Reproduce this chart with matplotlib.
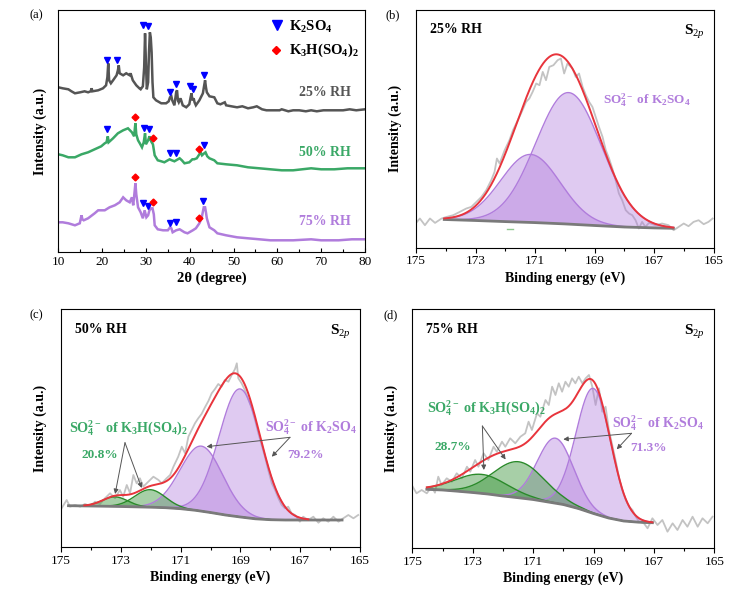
import numpy as np
import matplotlib
matplotlib.use("Agg")
import matplotlib.pyplot as plt

plt.rcParams['font.family'] = ['Liberation Serif', 'DejaVu Serif']
plt.rcParams['mathtext.fontset'] = 'custom'
plt.rcParams['mathtext.rm'] = 'Liberation Serif'
plt.rcParams['mathtext.bf'] = 'Liberation Serif:bold'
plt.rcParams['mathtext.it'] = 'Liberation Serif:italic'

# ---------------- XRD data (panel a) ----------------
xrd_tt_25 = [10.0, 11.0, 12.3, 13.0, 13.8, 15.0, 16.0, 16.8, 17.4, 17.6, 17.8, 19.1, 20.2, 20.9, 21.2, 21.4, 21.6,
             22.0, 22.5, 23.3, 23.6, 23.8, 24.0, 24.8, 25.5, 26.3, 26.5, 27.0, 27.8, 28.5, 28.8, 29.3, 29.6, 29.8,
             30.0, 30.2, 30.5, 30.7, 30.9, 31.1, 31.3, 31.5, 31.7, 32.3, 33.5, 34.6, 35.2, 35.5, 35.8, 36.0, 36.5,
             36.9, 37.1, 37.3, 37.5, 37.9, 38.4, 39.2, 39.9, 40.2, 40.4, 40.6, 40.9, 41.1, 41.4, 42.2, 43.0, 43.3,
             43.5, 43.7, 43.9, 44.5, 45.6, 46.3, 47.0, 48.0, 48.3, 49.5, 50.8, 52.0, 53.3, 54.5, 55.3, 56.5, 57.5,
             59.0, 60.5, 61.0, 62.5, 63.6, 65.0, 66.5, 67.7, 69.0, 70.5, 72.0, 73.5, 75.0, 76.5, 78.0, 80.0]
xrd_int_25 = [165, 164, 163, 161, 159, 160, 161, 160, 161, 164, 161, 162, 164, 167, 175, 189, 172,
              169, 172, 177, 182, 187, 179, 177, 179, 177, 179, 172, 167, 164, 163, 166, 185, 219,
              190, 163, 170, 200, 220, 215, 200, 170, 155, 152, 149, 149, 151, 155, 156, 152, 147,
              160, 162, 152, 150, 154, 147, 145, 148, 155, 159, 152, 154, 150, 147, 152, 159, 167,
              172, 165, 160, 156, 155, 149, 148, 150, 147, 146, 145, 146, 144, 145, 146, 143, 142,
              142, 142, 143, 141, 142, 142, 141, 142, 141, 142, 142, 142, 142, 143, 142, 143]

xrd_tt_50 = [10.0, 11.0, 12.3, 13.8, 15.3, 16.8, 18.3, 19.8, 20.6, 21.0, 21.3, 21.5, 22.5, 23.6, 24.8, 25.9, 26.8,
             27.3, 27.5, 27.6, 27.8, 28.2, 28.6, 29.1, 29.5, 29.8, 30.0, 30.5, 30.8, 31.0, 31.3, 31.6, 32.0, 32.7,
             33.5, 34.2, 35.4, 35.9, 36.5, 37.7, 38.2, 38.8, 39.9, 40.6, 41.0, 41.6, 42.2, 42.5, 42.8, 43.3, 43.6,
             44.0, 44.5, 45.6, 46.3, 48.3, 50.8, 53.3, 55.9, 58.4, 61.0, 63.6, 67.7, 70.0, 73.0, 76.0, 80.0]
xrd_int_50 = [98, 97, 95, 95, 98, 100, 103, 106, 109, 110, 116, 110, 114, 119, 122, 124, 120,
              116, 125, 129, 118, 112, 109, 105, 110, 119, 108, 112, 116, 113, 110, 108, 97, 92,
              91, 90, 93, 92, 91, 94, 92, 89, 90, 93, 93, 94, 98, 100, 97, 99, 100,
              96, 94, 92, 89, 88, 87, 85, 84, 83, 82, 82, 84, 83, 83, 84, 84]

xrd_tt_75 = [10.0, 11.0, 12.3, 13.8, 14.9, 15.3, 15.5, 15.8, 16.8, 18.3, 19.1, 20.6, 21.7, 22.9, 24.0, 24.8, 25.5,
             26.3, 26.8, 27.1, 27.4, 27.6, 27.8, 28.2, 28.8, 29.3, 29.7, 30.1, 30.5, 30.8, 31.2, 31.5, 31.8, 32.0,
             32.7, 33.9, 35.0, 35.5, 35.8, 36.1, 36.9, 37.7, 38.8, 39.5, 40.7, 41.4, 42.2, 42.7, 43.2, 43.5, 43.7,
             43.9, 44.5, 45.6, 46.3, 48.3, 50.8, 53.3, 55.9, 58.4, 61.0, 63.6, 67.7, 70.0, 74.0, 77.0, 80.0]
xrd_int_75 = [30, 30, 29, 27, 29, 37, 33, 32, 34, 39, 42, 42, 45, 47, 50, 55, 52,
              50, 55, 47, 60, 69, 58, 45, 40, 34, 42, 35, 37, 42, 44, 44, 38, 27,
              23, 22, 22, 25, 24, 20, 22, 23, 20, 19, 22, 24, 29, 34, 45, 45, 40,
              34, 25, 22, 19, 17, 15, 14, 13, 12, 12, 12, 13, 12, 12, 13, 13]

# phase markers (2theta, height)
k2so4_mark_25 = ([21.1, 23.4, 29.3, 30.5, 35.5, 36.8, 40.0, 40.7, 43.2], [192, 192, 227, 226, 160, 168, 166, 163, 177])
k2so4_mark_50 = ([21.1, 29.5, 30.8, 35.5, 36.8, 43.2], [123, 124, 123, 99, 99, 107])
k3h_mark_50 = ([27.4, 31.5, 42.2], [135, 114, 103])
k2so4_mark_75 = ([29.3, 30.5, 35.5, 36.8, 43.0], [49, 46, 29, 30, 51])
k3h_mark_75 = ([27.4, 31.5, 42.2], [75, 50, 34])

xrd_labels = ['25% RH', '50% RH', '75% RH']
xrd_label_y = [160, 99.6, 30.6]

# ---------------- XPS data (panels b, c, d) ----------------
# panel b (25% RH)
raw_be_b = [175.00, 174.87, 174.70, 174.53, 174.36, 174.14, 173.97, 173.75, 173.53, 173.31, 173.14, 172.97, 172.80,
            172.64, 172.47, 172.36, 172.28, 172.19, 172.02, 171.86, 171.74, 171.63, 171.47, 171.30, 171.19, 171.08,
            170.96, 170.85, 170.74, 170.63, 170.52, 170.38, 170.24, 170.13, 170.02, 169.91, 169.74, 169.63, 169.52,
            169.40, 169.29, 169.18, 169.07, 168.96, 168.85, 168.73, 168.62, 168.51, 168.40, 168.29, 168.18, 168.07,
            167.95, 167.84, 167.73, 167.62, 167.51, 167.40, 167.29, 167.17, 166.95, 166.73, 166.51, 166.34, 166.17,
            166.00, 165.84, 165.67, 165.50, 165.33, 165.17, 165.03]
raw_int_b = [24.6, 29.0, 22.3, 29.0, 24.6, 29.0, 30.6, 32.3, 35.6, 39.0, 40.6, 45.6, 50.6,
             57.3, 67.3, 75.6, 89.0, 84.0, 97.3, 107.3, 117.3, 124.0, 134.0, 145.6, 149.0, 155.6,
             164.0, 162.3, 175.6, 167.3, 180.6, 182.3, 187.3, 189.0, 174.0, 184.0, 179.0, 170.6, 174.0,
             160.6, 152.3, 145.6, 140.6, 130.6, 120.6, 110.6, 97.3, 89.0, 79.0, 67.3, 54.0, 47.3,
             37.3, 34.0, 32.3, 27.3, 19.0, 25.6, 20.6, 24.6, 22.3, 24.0, 22.3, 17.3, 20.6,
             24.0, 21.3, 25.6, 27.3, 23.3, 25.6, 29.0]
bg_be_b = [174.05, 173.0, 172.0, 171.0, 170.0, 169.0, 168.0, 167.0, 166.35]
bg_int_b = [28.0, 27.0, 25.9, 24.9, 23.6, 22.0, 20.5, 19.6, 19.2]
fit_range_b = [174.05, 166.35]
peak_center_b = [169.87, 171.15]
peak_height_b = [131.5, 68.0]
peak_fwhm_b = [2.6, 2.35]
peak_phase_b = ['K2SO4', 'K2SO4']

# panel c (50% RH)
raw_be_c = [175.00, 174.81, 174.70, 174.53, 174.36, 174.20, 174.03, 173.86, 173.70, 173.53, 173.36, 173.19, 173.03,
            172.92, 172.80, 172.69, 172.58, 172.47, 172.36, 172.25, 172.08, 171.91, 171.74, 171.63, 171.47, 171.35,
            171.24, 171.08, 170.96, 170.85, 170.74, 170.63, 170.52, 170.41, 170.30, 170.18, 170.07, 169.96, 169.85,
            169.74, 169.63, 169.52, 169.40, 169.29, 169.18, 169.12, 169.07, 168.96, 168.85, 168.73, 168.62, 168.51,
            168.40, 168.29, 168.18, 168.07, 167.95, 167.84, 167.73, 167.62, 167.51, 167.40, 167.29, 167.17, 167.01,
            166.90, 166.73, 166.56, 166.39, 166.23, 166.06, 165.89, 165.72, 165.56, 165.39, 165.22, 165.06]
raw_int_c = [37.7, 47.0, 40.3, 42.0, 40.3, 43.0, 41.0, 45.3, 43.0, 48.7, 53.7, 48.7, 57.0,
             50.3, 62.0, 53.7, 72.0, 63.7, 68.7, 60.3, 65.3, 70.3, 67.0, 63.7, 68.7, 72.0,
             80.3, 90.3, 100.3, 93.7, 110.3, 117.0, 123.7, 128.7, 133.0, 140.0, 146.0, 153.7, 158.0,
             163.0, 160.3, 167.0, 165.3, 172.0, 178.0, 183.7, 168.7, 163.7, 157.0, 147.0, 138.7, 127.0,
             113.7, 102.0, 90.3, 77.0, 63.7, 57.0, 48.7, 42.0, 38.7, 40.3, 33.7, 32.0, 25.3,
             30.3, 27.0, 30.3, 24.3, 28.7, 25.3, 30.3, 25.3, 28.7, 32.0, 28.7, 32.0]
bg_be_c = [174.75, 174.0, 173.0, 172.0, 171.5, 171.0, 170.5, 170.0, 169.5, 169.0, 168.5, 168.0, 167.5, 167.0, 166.0, 165.6]
bg_int_c = [41.3, 41.0, 40.5, 39.8, 39.3, 38.3, 36.7, 34.5, 32.0, 30.0, 28.2, 27.3, 27.0, 27.0, 27.0, 27.0]
fit_range_c = [174.22, 166.73]
peak_center_c = [169.01, 170.30, 172.02, 173.19]
peak_height_c = [128.0, 65.0, 17.5, 9.5]
peak_fwhm_c = [1.66, 1.67, 1.2, 1.0]
peak_phase_c = ['K2SO4', 'K2SO4', 'K3H', 'K3H']

# panel d (75% RH)
raw_be_d = [175.00, 174.86, 174.69, 174.52, 174.36, 174.25, 174.14, 174.03, 173.86, 173.69, 173.53, 173.36, 173.19,
            173.08, 172.92, 172.81, 172.64, 172.48, 172.31, 172.20, 172.03, 171.92, 171.76, 171.59, 171.42, 171.26,
            171.15, 171.04, 170.87, 170.76, 170.59, 170.48, 170.37, 170.26, 170.15, 170.04, 169.93, 169.82, 169.71,
            169.60, 169.49, 169.37, 169.26, 169.15, 169.04, 168.93, 168.82, 168.71, 168.60, 168.49, 168.38, 168.27,
            168.16, 168.05, 167.93, 167.82, 167.71, 167.60, 167.49, 167.33, 167.21, 167.05, 166.88, 166.72, 166.55,
            166.38, 166.22, 166.05, 165.89, 165.72, 165.55, 165.39, 165.22, 165.06]
raw_int_d = [62.0, 54.7, 58.0, 54.7, 61.3, 55.3, 71.3, 63.0, 69.7, 66.3, 74.7, 69.7, 81.3,
             76.3, 88.0, 81.3, 94.7, 88.0, 101.3, 96.3, 106.3, 101.3, 109.7, 104.7, 111.3, 114.7,
             126.3, 118.0, 134.7, 131.3, 148.0, 143.0, 161.3, 153.0, 164.7, 156.3, 166.3, 161.3, 169.7,
             164.7, 171.3, 164.7, 169.7, 173.0, 161.3, 143.0, 159.7, 136.3, 141.3, 118.0, 103.0, 88.0,
             71.3, 58.0, 48.0, 41.3, 38.0, 31.3, 26.3, 24.7, 19.7, 29.7, 23.0, 28.0, 16.3,
             24.7, 18.0, 28.0, 21.3, 31.3, 21.3, 29.7, 24.7, 31.3]
bg_be_d = [174.52, 174.0, 173.5, 173.0, 172.5, 172.0, 171.5, 171.0, 170.5, 170.0, 169.5, 169.0, 168.5, 168.0, 167.5, 167.05]
bg_int_d = [58.7, 58.0, 56.8, 55.5, 54.0, 52.0, 50.3, 48.5, 46.0, 43.5, 39.5, 34.5, 30.0, 27.0, 25.8, 25.3]
fit_range_d = [174.52, 167.05]
peak_center_d = [169.0, 170.26, 171.48, 172.70]
peak_height_d = [125.0, 65.0, 36.0, 19.0]
peak_fwhm_d = [1.35, 1.4, 2.0, 2.0]
peak_phase_d = ['K2SO4', 'K2SO4', 'K3H', 'K3H']

pct_c = ['20.8%', '79.2%']
pct_d = ['28.7%', '71.3%']

# ---------------- style ----------------
C25 = '#555555'
C50 = '#3aa866'
C75 = '#b07cdc'
PURPLE = '#b07cdc'
GREEN_FILL = '#3c963c'
GREEN_EDGE = '#2a8a2a'
GREEN_TXT = '#3aa866'
RAW = '#c3c3c3'
ENV = '#e8343c'
BG = '#7a7a7a'
ARW = '#555555'

W, H = 756, 598
fig = plt.figure(figsize=(W / 100, H / 100), dpi=100)


def frac(l, t, r, b):
    return [l / W, 1 - b / H, (r - l) / W, (b - t) / H]


# ---------------- panel (a) ----------------
axa = fig.add_axes(frac(58.3, 10, 365, 252.3))
for tt, it, c in [(xrd_tt_25, xrd_int_25, C25), (xrd_tt_50, xrd_int_50, C50), (xrd_tt_75, xrd_int_75, C75)]:
    axa.plot(tt, it, color=c, lw=1.8, solid_joinstyle='miter')
for mk in [k2so4_mark_25, k2so4_mark_50, k2so4_mark_75]:
    axa.plot(mk[0], mk[1], ls='none', marker='v', ms=4.5, color='#0000ff', mec='#0000ff')
for mk in [k3h_mark_50, k3h_mark_75]:
    axa.plot(mk[0], mk[1], ls='none', marker='D', ms=3.5, color='#ff0000', mec='#ff0000')
for lab, y, c in zip(xrd_labels, xrd_label_y, [C25, C50, C75]):
    axa.text(76.8, y, lab, color=c, fontsize=10, fontweight='bold', ha='right', va='center')
axa.plot([59.9], [227], ls='none', marker='v', ms=7, color='#0000ff')
axa.plot([59.6], [202], ls='none', marker='D', ms=4.5, color='#ff0000')
axa.text(62.7, 225.5, r'$\mathbf{K_2SO_4}$', fontsize=10.5, ha='left', va='center')
axa.text(62.7, 202, r'$\mathbf{K_3H(SO_4)_2}$', fontsize=10.5, ha='left', va='center')
axa.set_xlim(10, 80)
axa.set_ylim(0, 242.3)
axa.set_xticks(range(10, 81, 10))
axa.set_xticks(range(15, 80, 10), minor=True)
axa.set_yticks([])
axa.tick_params(axis='x', which='major', direction='in', length=3, width=0.8, labelsize=9.5, pad=3)
axa.tick_params(axis='x', which='minor', direction='in', length=2, width=0.8)
axa.set_xlabel('2θ (degree)', fontsize=10.5, fontweight='bold', labelpad=2)
axa.set_ylabel('Intensity (a.u.)', fontsize=10, fontweight='bold', labelpad=8)


def gauss(x, c, h, w):
    return h * np.exp(-4 * np.log(2) * (x - c) ** 2 / w ** 2)


def xps_panel(rect, raw_be, raw_int, bg_be, bg_int, fit_range, centers, heights, fwhms, phases, rh, ylab_pad):
    ax = fig.add_axes(rect)
    ax.plot(raw_be, raw_int, color=RAW, lw=1.3, zorder=1)
    x = np.linspace(fit_range[0], fit_range[1], 600)
    bgx = np.interp(x[::-1], bg_be[::-1], bg_int[::-1])[::-1]
    total = bgx.copy()
    for c, h, w, p in zip(centers, heights, fwhms, phases):
        g = gauss(x, c, h, w)
        total += g
        if p == 'K2SO4':
            ax.fill_between(x, bgx, bgx + g, color=PURPLE, alpha=0.4, lw=0, zorder=2)
            ax.plot(x, bgx + g, color=PURPLE, lw=1.0, zorder=3)
        else:
            ax.fill_between(x, bgx, bgx + g, color=GREEN_FILL, alpha=0.45, lw=0, zorder=2)
            ax.plot(x, bgx + g, color=GREEN_EDGE, lw=1.0, zorder=3)
    ax.plot(bg_be, bg_int, color=BG, lw=2.0, zorder=4)
    ax.plot(x, total, color=ENV, lw=1.4, zorder=5)
    ax.set_xlim(175, 165)
    ax.set_xticks([175, 173, 171, 169, 167, 165])
    ax.set_xticks([174, 172, 170, 168, 166], minor=True)
    ax.set_yticks([])
    ax.tick_params(axis='x', which='major', direction='out', length=3.5, width=0.8, labelsize=9.5, pad=2)
    ax.tick_params(axis='x', which='minor', direction='out', length=2, width=0.8)
    ax.set_xlabel('Binding energy (eV)', fontsize=10, fontweight='bold', labelpad=3)
    ax.set_ylabel('Intensity (a.u.)', fontsize=10, fontweight='bold', labelpad=ylab_pad)
    ax.text(0.047, 0.915, rh, transform=ax.transAxes, fontsize=10, fontweight='bold', ha='left', va='center')
    ax.text(0.90, 0.905, r'$\mathbf{S}_{\mathit{2p}}$', transform=ax.transAxes, fontsize=11, ha='left', va='center')
    return ax


axb = xps_panel(frac(416, 9.5, 713.5, 247.5), raw_be_b, raw_int_b, bg_be_b, bg_int_b, fit_range_b,
                peak_center_b, peak_height_b, peak_fwhm_b, peak_phase_b, '25% RH', 10)
axb.set_ylim(0, 238)
axb.plot([171.94, 171.74], [18.5, 18.5], color='#8fc98f', lw=1)
axb.text(168.71, 147.5, r'$\mathbf{SO_4^{2-}\ of\ K_2SO_4}$', color=PURPLE, fontsize=9.5, ha='left', va='center')

axc = xps_panel(frac(61, 309.3, 360, 547), raw_be_c, raw_int_c, bg_be_c, bg_int_c, fit_range_c,
                peak_center_c, peak_height_c, peak_fwhm_c, peak_phase_c, '50% RH', 10)
axc.set_ylim(0, 237.7)
axc.text(174.73, 119, r'$\mathbf{SO_4^{2-}\ of\ K_3H(SO_4)_2}$', color=GREEN_TXT, fontsize=10.2, ha='left', va='center')
axc.text(174.30, 92, pct_c[0], color=GREEN_TXT, fontsize=9.5, fontweight='bold', ha='left', va='center')
axc.text(168.18, 120.3, r'$\mathbf{SO_4^{2-}\ of\ K_2SO_4}$', color=PURPLE, fontsize=10, ha='left', va='center')
axc.text(167.44, 92, pct_c[1], color=PURPLE, fontsize=9.5, fontweight='bold', ha='left', va='center')
ap = dict(arrowstyle='-|>', color=ARW, lw=0.7, mutation_scale=7, shrinkA=0, shrinkB=0)
for tgt in [(173.19, 53), (172.30, 59)]:
    axc.annotate('', xy=tgt, xytext=(172.86, 104.3), arrowprops=ap, zorder=6)
for tgt in [(170.13, 100.3), (167.95, 90.3)]:
    axc.annotate('', xy=tgt, xytext=(167.34, 109.7), arrowprops=ap, zorder=6)

axd = xps_panel(frac(412.3, 309.3, 714.3, 548), raw_be_d, raw_int_d, bg_be_d, bg_int_d, fit_range_d,
                peak_center_d, peak_height_d, peak_fwhm_d, peak_phase_d, '75% RH', 10)
axd.set_ylim(0, 238.7)
axd.text(174.52, 139.7, r'$\mathbf{SO_4^{2-}\ of\ K_3H(SO_4)_2}$', color=GREEN_TXT, fontsize=10.2, ha='left', va='center')
axd.text(174.25, 101.3, pct_d[0], color=GREEN_TXT, fontsize=9.5, fontweight='bold', ha='left', va='center')
axd.text(168.40, 125.3, r'$\mathbf{SO_4^{2-}\ of\ K_2SO_4}$', color=PURPLE, fontsize=10, ha='left', va='center')
axd.text(167.78, 100.3, pct_d[1], color=PURPLE, fontsize=9.5, fontweight='bold', ha='left', va='center')
for tgt in [(172.63, 78), (171.91, 88.5)]:
    axd.annotate('', xy=tgt, xytext=(172.68, 122), arrowprops=ap, zorder=6)
for tgt in [(170.0, 108.7), (168.23, 98.7)]:
    axd.annotate('', xy=tgt, xytext=(167.74, 114.7), arrowprops=ap, zorder=6)

for lab, (px, py) in zip(['(a)', '(b)', '(c)', '(d)'], [(30, 15), (385, 15), (30, 315), (383, 315)]):
    fig.text(px / W, 1 - py / H, lab, fontsize=9, ha='left', va='center')

fig.savefig('out.png', dpi=100)
